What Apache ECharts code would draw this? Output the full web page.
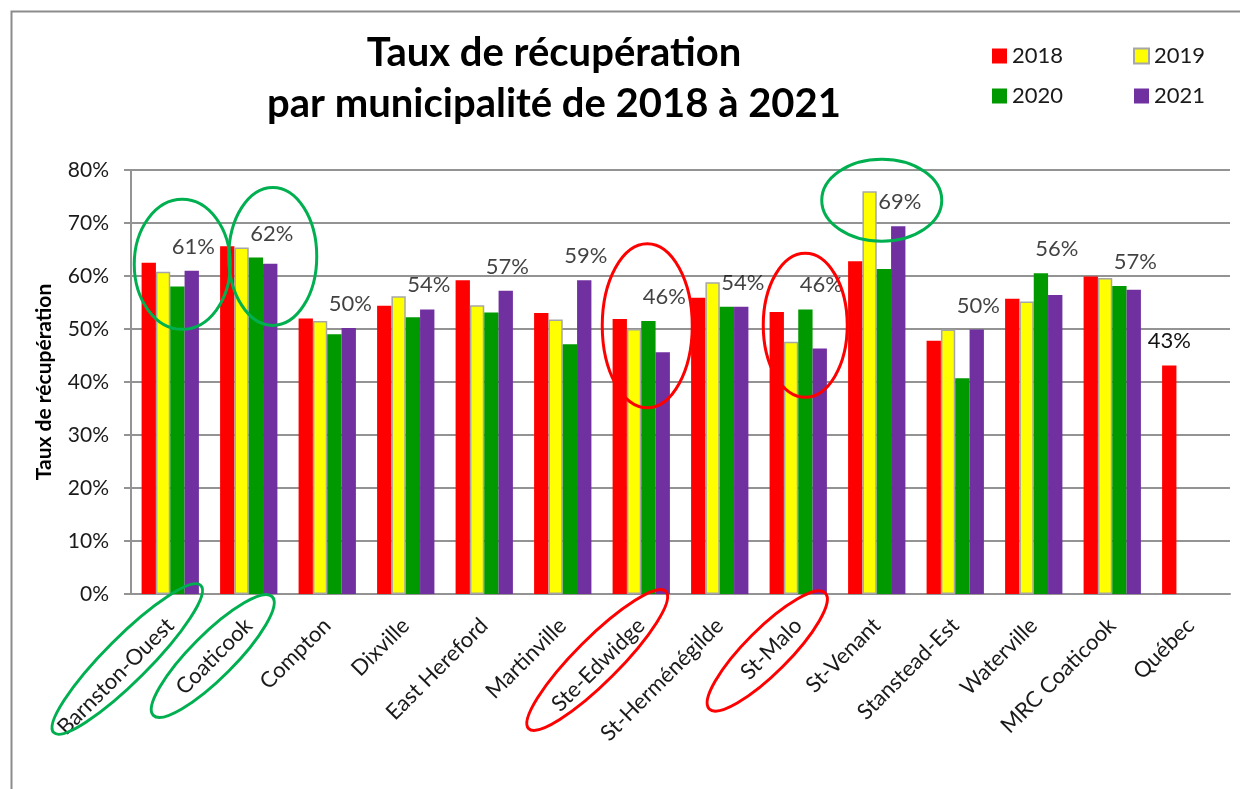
<!DOCTYPE html>
<html>
<head>
<meta charset="utf-8">
<script src="https://cdn.jsdelivr.net/npm/echarts@6/dist/echarts.min.js"></script>
<style>
  html, body { margin: 0; padding: 0; background: #fff; }
  #chart { width: 1240px; height: 789px; }
</style>
</head>
<body>
<div id="chart"></div>
<script>
// données (taux en %)
const municipalites = ['Barnston-Ouest', 'Coaticook', 'Compton', 'Dixville', 'East Hereford', 'Martinville',
  'Ste-Edwidge', 'St-Herménégilde', 'St-Malo', 'St-Venant', 'Stanstead-Est', 'Waterville', 'MRC Coaticook', 'Québec'];
const annees = ['2018', '2019', '2020', '2021'];
const taux2018 = [62.5, 65.6, 52.0, 54.4, 59.2, 53.0, 51.9, 55.9, 53.2, 62.8, 47.8, 55.7, 59.9, 43.1];
const taux2019 = [60.8, 65.4, 51.5, 56.2, 54.5, 51.8, 50.0, 58.8, 47.6, 76.0, 49.9, 55.2, 59.6, null];
const taux2020 = [58.0, 63.5, 49.0, 52.2, 53.1, 47.1, 51.5, 54.2, 53.7, 61.3, 40.7, 60.5, 58.1, null];
const taux2021 = [61.0, 62.3, 50.2, 53.7, 57.2, 59.2, 45.6, 54.2, 46.3, 69.4, 49.9, 56.4, 57.4, null];

const couleurs = ['#FF0000', '#FFFF00', '#009900', '#7030A0'];
const police = 'Lato, "Open Sans", sans-serif';
const gris = '#939393';

// annotations (ellipses) : autour des barres et autour des noms
const vert = '#00B050', rouge = '#FF0000';
const cerclesBarres = [
  { cat: 'Barnston-Ouest', val: 62.2, dx: 12, rx: 48, ry: 65, couleur: vert },
  { cat: 'Coaticook', val: 63.7, dx: 24, rx: 44, ry: 69, couleur: vert },
  { cat: 'Ste-Edwidge', val: 50.6, dx: 6, rx: 45, ry: 82, couleur: rouge },
  { cat: 'St-Malo', val: 50.7, dx: 7, rx: 42, ry: 72, couleur: rouge },
  { cat: 'St-Venant', val: 74.3, dx: 5, rx: 60, ry: 41, couleur: vert }
];
const cerclesNoms = [
  { cat: 'Barnston-Ouest', dx: -43, dy: 65, rx: 104, ry: 22, couleur: vert },
  { cat: 'Coaticook', dx: -36, dy: 62, rx: 84, ry: 22, couleur: vert },
  { cat: 'Ste-Edwidge', dx: -44, dy: 66, rx: 97, ry: 22, couleur: rouge },
  { cat: 'St-Malo', dx: -31, dy: 57, rx: 82, ry: 22, couleur: rouge }
];

var chart = echarts.init(document.getElementById('chart'));

const series = [taux2018, taux2019, taux2020, taux2021].map(function (vals, k) {
  return {
    name: annees[k],
    type: 'bar',
    barGap: '0%',
    barCategoryGap: '27%',
    itemStyle: k === 1
      ? { color: couleurs[k], borderColor: '#a6a6a6', borderWidth: 1.5 }
      : { color: couleurs[k] },
    label: { show: false, position: 'top', distance: 14, fontFamily: police, fontSize: 22, color: '#111',
      formatter: function (p) { return Math.round(p.value) + '%'; } },
    // Québec n'a que 2018 : son étiquette va sur la barre rouge
    data: vals.map(function (v, i) {
      if (k === 0 && taux2021[i] == null) return { value: v, label: { show: true } };
      return v;
    })
  };
});

// étiquettes 2021 placées au-dessus de la plus haute des barres 2020/2021
series.push({
  name: 'etiquettes',
  type: 'scatter',
  symbolSize: 0,
  silent: true,
  z: 5,
  label: {
    show: true, position: 'top', distance: 13, offset: [23, 0],
    fontFamily: police, fontSize: 22, color: '#111',
    formatter: function (p) { return Math.round(taux2021[p.value[0]]) + '%'; }
  },
  data: municipalites.map(function (m, i) {
    return taux2021[i] == null ? null : [i, Math.max(taux2020[i], taux2021[i])];
  }).filter(function (d) { return d; })
});

const legendeBase = {
  orient: 'vertical', itemWidth: 15, itemHeight: 15, itemGap: 18, icon: 'rect',
  textStyle: { fontFamily: police, fontSize: 22, color: '#1a1a1a' }
};

const option = {
  animation: false,
  title: {
    text: 'Taux de récupération\npar municipalité de 2018 à 2021',
    left: 549, top: 23, textAlign: 'center',
    textStyle: { fontFamily: police, fontSize: 40, fontWeight: 'bold', color: '#000', lineHeight: 51 }
  },
  legend: [
    Object.assign({}, legendeBase, { data: ['2018', '2020'], left: 987, top: 40 }),
    Object.assign({}, legendeBase, { data: ['2019', '2021'], left: 1128, top: 40 })
  ],
  grid: { left: 131, right: 10, top: 170, bottom: 195 },
  xAxis: {
    type: 'category',
    data: municipalites,
    axisLine: { lineStyle: { color: gris, width: 2 } },
    axisTick: { length: 7, lineStyle: { color: gris, width: 2 } },
    axisLabel: { interval: 0, rotate: 45, margin: 28, fontFamily: police, fontSize: 22, color: '#1a1a1a' }
  },
  yAxis: {
    type: 'value',
    min: 0, max: 80, interval: 10,
    name: 'Taux de récupération',
    nameLocation: 'middle',
    nameGap: 76,
    nameTextStyle: { fontFamily: police, fontSize: 21, fontWeight: 'bold', color: '#000' },
    axisLine: { show: true, lineStyle: { color: gris, width: 2 } },
    axisTick: { show: true, length: 7, lineStyle: { color: gris, width: 2 } },
    splitLine: { lineStyle: { color: gris, width: 2 } },
    axisLabel: { margin: 22, fontFamily: police, fontSize: 21, color: '#1a1a1a', formatter: '{value}%' }
  },
  series: series
};
chart.setOption(option);

// ellipses placées à partir des axes du graphique
var graphiques = [{
  type: 'rect', left: 9, top: 9, silent: true,
  shape: { width: 1300, height: 900 },
  style: { fill: 'none', stroke: '#8c8c8c', lineWidth: 2 }
}];
cerclesBarres.forEach(function (c) {
  var p = chart.convertToPixel({ xAxisIndex: 0, yAxisIndex: 0 }, [c.cat, c.val]);
  graphiques.push({
    type: 'ellipse', silent: true, z: 10,
    shape: { cx: p[0] + c.dx, cy: p[1], rx: c.rx, ry: c.ry },
    style: { fill: 'none', stroke: c.couleur, lineWidth: 3 }
  });
});
cerclesNoms.forEach(function (c) {
  var p = chart.convertToPixel({ xAxisIndex: 0, yAxisIndex: 0 }, [c.cat, 0]);
  graphiques.push({
    type: 'ellipse', silent: true, z: 10,
    x: p[0] + c.dx, y: p[1] + c.dy, rotation: Math.PI / 4,
    shape: { cx: 0, cy: 0, rx: c.rx, ry: c.ry },
    style: { fill: 'none', stroke: c.couleur, lineWidth: 3 }
  });
});
chart.setOption({ graphic: graphiques });

window.addEventListener('resize', function () {
  chart.resize();
});
</script>
</body>
</html>
